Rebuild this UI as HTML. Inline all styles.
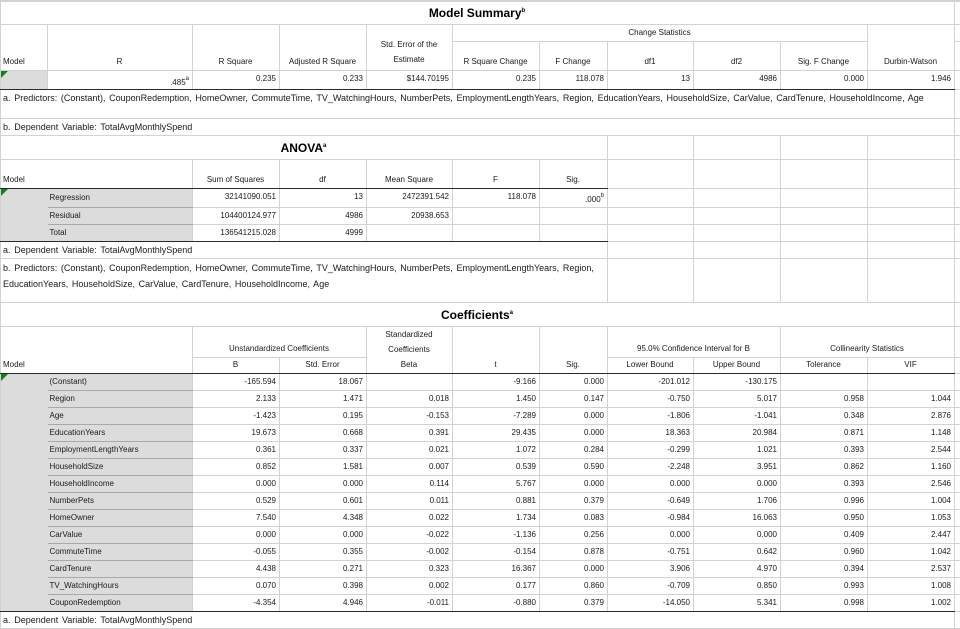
<!DOCTYPE html>
<html><head><meta charset="utf-8"><style>
html,body{margin:0;padding:0;background:#fff;width:960px;height:628px;overflow:hidden}
table{position:absolute;left:0;top:0;border-collapse:collapse;table-layout:fixed;width:960px;font-family:"Liberation Sans",Arial,sans-serif;font-size:8px;color:#1a1a1a}
td{border:1px solid #d2d2d2;padding:0 3px 0 2px;line-height:10px;overflow:hidden;white-space:nowrap;vertical-align:middle}
.r{text-align:right}.c{text-align:center}
.t{vertical-align:top;padding-top:3px}
.b{vertical-align:bottom;padding-bottom:3px}
.dk{border-bottom:1px solid #1f2b36}
.g{background:#dcdcdc}
.g0{background:#dcdcdc;border-right:hidden;position:relative}
.gl{border-left:hidden;border-bottom-color:#a9a9a9;padding-left:2px}
.ttl{font-size:12px;font-weight:bold;text-align:center;color:#000}
.ft{word-spacing:1.2px;font-size:9px}
sup{font-size:6px;vertical-align:5px;line-height:0}
.tri{position:absolute;left:0;top:0;width:0;height:0;border-top:7px solid #1e7a1e;border-right:7px solid transparent}
</style></head><body>
<table>
<colgroup><col style="width:47px"><col style="width:145px"><col style="width:87px"><col style="width:87px"><col style="width:86px"><col style="width:87px"><col style="width:68px"><col style="width:86px"><col style="width:87px"><col style="width:87px"><col style="width:87px"><col style="width:6px"></colgroup>
<tr style="height:1px"><td></td><td></td><td></td><td></td><td></td><td></td><td></td><td></td><td></td><td></td><td></td><td></td></tr>
<tr style="height:23px"><td colspan="11" class="ttl">Model Summary<sup>b</sup></td><td></td></tr>
<tr style="height:17px"><td rowspan="2" class="b">Model</td><td rowspan="2" class="b c">R</td><td rowspan="2" class="b c">R Square</td><td rowspan="2" class="b c">Adjusted R Square</td><td rowspan="2" class="b c" style="line-height:15px">Std. Error of the<br>Estimate</td><td colspan="5" class="c">Change Statistics</td><td rowspan="2" class="b c">Durbin-Watson</td><td></td></tr>
<tr style="height:29px"><td class="b c">R Square Change</td><td class="b c">F Change</td><td class="b c">df1</td><td class="b c">df2</td><td class="b c">Sig. F Change</td><td></td></tr>
<tr style="height:19px"><td class="g dk" style="border-top:1px solid #1f2b36;position:relative"><div class="tri"></div></td><td class="r b dk" style="padding-bottom:1px">.485<sup>a</sup></td><td class="r t dk">0.235</td><td class="r t dk">0.233</td><td class="r t dk">$144.70195</td><td class="r t dk">0.235</td><td class="r t dk">118.078</td><td class="r t dk">13</td><td class="r t dk">4986</td><td class="r t dk">0.000</td><td class="r t dk">1.946</td><td></td></tr>
<tr style="height:29px"><td colspan="11" class="t ft">a. Predictors: (Constant), CouponRedemption, HomeOwner, CommuteTime, TV_WatchingHours, NumberPets, EmploymentLengthYears, Region, EducationYears, HouseholdSize, CarValue, CardTenure, HouseholdIncome, Age</td><td></td></tr>
<tr style="height:17px"><td colspan="11" class="ft">b. Dependent Variable: TotalAvgMonthlySpend</td><td></td></tr>
<tr style="height:24px"><td colspan="7" class="ttl">ANOVA<sup>a</sup></td><td></td><td></td><td></td><td></td><td></td></tr>
<tr style="height:29px"><td colspan="2" class="b dk">Model</td><td class="b c dk">Sum of Squares</td><td class="b c dk">df</td><td class="b c dk">Mean Square</td><td class="b c dk">F</td><td class="b c dk">Sig.</td><td></td><td></td><td></td><td></td><td></td></tr>
<tr style="height:19px"><td rowspan="3" class="g0 dk"><div class="tri"></div></td><td class="g gl">Regression</td><td class="r t">32141090.051</td><td class="r t">13</td><td class="r t">2472391.542</td><td class="r t">118.078</td><td class="r b" style="padding-bottom:2px">.000<sup>b</sup></td><td></td><td></td><td></td><td></td><td></td></tr>
<tr style="height:17px"><td class="g gl">Residual</td><td class="r t">104400124.977</td><td class="r t">4986</td><td class="r t">20938.653</td><td></td><td></td><td></td><td></td><td></td><td></td><td></td></tr>
<tr style="height:17px"><td class="g gl dk" style="border-bottom-color:#1f2b36">Total</td><td class="r t dk">136541215.028</td><td class="r t dk">4999</td><td class="dk"></td><td class="dk"></td><td class="dk"></td><td></td><td></td><td></td><td></td><td></td></tr>
<tr style="height:17px"><td colspan="7" class="ft">a. Dependent Variable: TotalAvgMonthlySpend</td><td></td><td></td><td></td><td></td><td></td></tr>
<tr style="height:44px"><td colspan="7" class="t ft" style="line-height:16px;padding-top:1px">b. Predictors: (Constant), CouponRedemption, HomeOwner, CommuteTime, TV_WatchingHours, NumberPets, EmploymentLengthYears, Region,<br>EducationYears, HouseholdSize, CarValue, CardTenure, HouseholdIncome, Age</td><td></td><td></td><td></td><td></td><td></td></tr>
<tr style="height:24px"><td colspan="11" class="ttl">Coefficients<sup>a</sup></td><td></td></tr>
<tr style="height:30px"><td colspan="2" rowspan="2" class="b dk">Model</td><td colspan="2" class="b c">Unstandardized Coefficients</td><td class="c" style="border-bottom:none;line-height:15px;vertical-align:top">Standardized<br>Coefficients</td><td rowspan="2" class="b c dk">t</td><td rowspan="2" class="b c dk">Sig.</td><td colspan="2" class="b c">95.0% Confidence Interval for B</td><td colspan="2" class="b c">Collinearity Statistics</td><td></td></tr>
<tr style="height:16px"><td class="c dk">B</td><td class="c dk">Std. Error</td><td class="c dk" style="border-top:none">Beta</td><td class="c dk">Lower Bound</td><td class="c dk">Upper Bound</td><td class="c dk">Tolerance</td><td class="c dk">VIF</td><td></td></tr>
<tr style="height:17px"><td rowspan="14" class="g0 dk" style="vertical-align:top"><div class="tri"></div></td><td class="g gl">(Constant)</td><td class="r">-165.594</td><td class="r">18.067</td><td></td><td class="r">-9.166</td><td class="r">0.000</td><td class="r">-201.012</td><td class="r">-130.175</td><td></td><td></td><td></td></tr>
<tr style="height:17px"><td class="g gl">Region</td><td class="r">2.133</td><td class="r">1.471</td><td class="r">0.018</td><td class="r">1.450</td><td class="r">0.147</td><td class="r">-0.750</td><td class="r">5.017</td><td class="r">0.958</td><td class="r">1.044</td><td></td></tr>
<tr style="height:17px"><td class="g gl">Age</td><td class="r">-1.423</td><td class="r">0.195</td><td class="r">-0.153</td><td class="r">-7.289</td><td class="r">0.000</td><td class="r">-1.806</td><td class="r">-1.041</td><td class="r">0.348</td><td class="r">2.876</td><td></td></tr>
<tr style="height:17px"><td class="g gl">EducationYears</td><td class="r">19.673</td><td class="r">0.668</td><td class="r">0.391</td><td class="r">29.435</td><td class="r">0.000</td><td class="r">18.363</td><td class="r">20.984</td><td class="r">0.871</td><td class="r">1.148</td><td></td></tr>
<tr style="height:17px"><td class="g gl">EmploymentLengthYears</td><td class="r">0.361</td><td class="r">0.337</td><td class="r">0.021</td><td class="r">1.072</td><td class="r">0.284</td><td class="r">-0.299</td><td class="r">1.021</td><td class="r">0.393</td><td class="r">2.544</td><td></td></tr>
<tr style="height:17px"><td class="g gl">HouseholdSize</td><td class="r">0.852</td><td class="r">1.581</td><td class="r">0.007</td><td class="r">0.539</td><td class="r">0.590</td><td class="r">-2.248</td><td class="r">3.951</td><td class="r">0.862</td><td class="r">1.160</td><td></td></tr>
<tr style="height:17px"><td class="g gl">HouseholdIncome</td><td class="r">0.000</td><td class="r">0.000</td><td class="r">0.114</td><td class="r">5.767</td><td class="r">0.000</td><td class="r">0.000</td><td class="r">0.000</td><td class="r">0.393</td><td class="r">2.546</td><td></td></tr>
<tr style="height:17px"><td class="g gl">NumberPets</td><td class="r">0.529</td><td class="r">0.601</td><td class="r">0.011</td><td class="r">0.881</td><td class="r">0.379</td><td class="r">-0.649</td><td class="r">1.706</td><td class="r">0.996</td><td class="r">1.004</td><td></td></tr>
<tr style="height:17px"><td class="g gl">HomeOwner</td><td class="r">7.540</td><td class="r">4.348</td><td class="r">0.022</td><td class="r">1.734</td><td class="r">0.083</td><td class="r">-0.984</td><td class="r">16.063</td><td class="r">0.950</td><td class="r">1.053</td><td></td></tr>
<tr style="height:17px"><td class="g gl">CarValue</td><td class="r">0.000</td><td class="r">0.000</td><td class="r">-0.022</td><td class="r">-1.136</td><td class="r">0.256</td><td class="r">0.000</td><td class="r">0.000</td><td class="r">0.409</td><td class="r">2.447</td><td></td></tr>
<tr style="height:17px"><td class="g gl">CommuteTime</td><td class="r">-0.055</td><td class="r">0.355</td><td class="r">-0.002</td><td class="r">-0.154</td><td class="r">0.878</td><td class="r">-0.751</td><td class="r">0.642</td><td class="r">0.960</td><td class="r">1.042</td><td></td></tr>
<tr style="height:17px"><td class="g gl">CardTenure</td><td class="r">4.438</td><td class="r">0.271</td><td class="r">0.323</td><td class="r">16.367</td><td class="r">0.000</td><td class="r">3.906</td><td class="r">4.970</td><td class="r">0.394</td><td class="r">2.537</td><td></td></tr>
<tr style="height:17px"><td class="g gl">TV_WatchingHours</td><td class="r">0.070</td><td class="r">0.398</td><td class="r">0.002</td><td class="r">0.177</td><td class="r">0.860</td><td class="r">-0.709</td><td class="r">0.850</td><td class="r">0.993</td><td class="r">1.008</td><td></td></tr>
<tr style="height:17px"><td class="g gl dk" style="border-bottom-color:#1f2b36">CouponRedemption</td><td class="r dk">-4.354</td><td class="r dk">4.946</td><td class="r dk">-0.011</td><td class="r dk">-0.880</td><td class="r dk">0.379</td><td class="r dk">-14.050</td><td class="r dk">5.341</td><td class="r dk">0.998</td><td class="r dk">1.002</td><td></td></tr>
<tr style="height:17px"><td colspan="11" class="ft">a. Dependent Variable: TotalAvgMonthlySpend</td><td></td></tr>
</table>
</body></html>
